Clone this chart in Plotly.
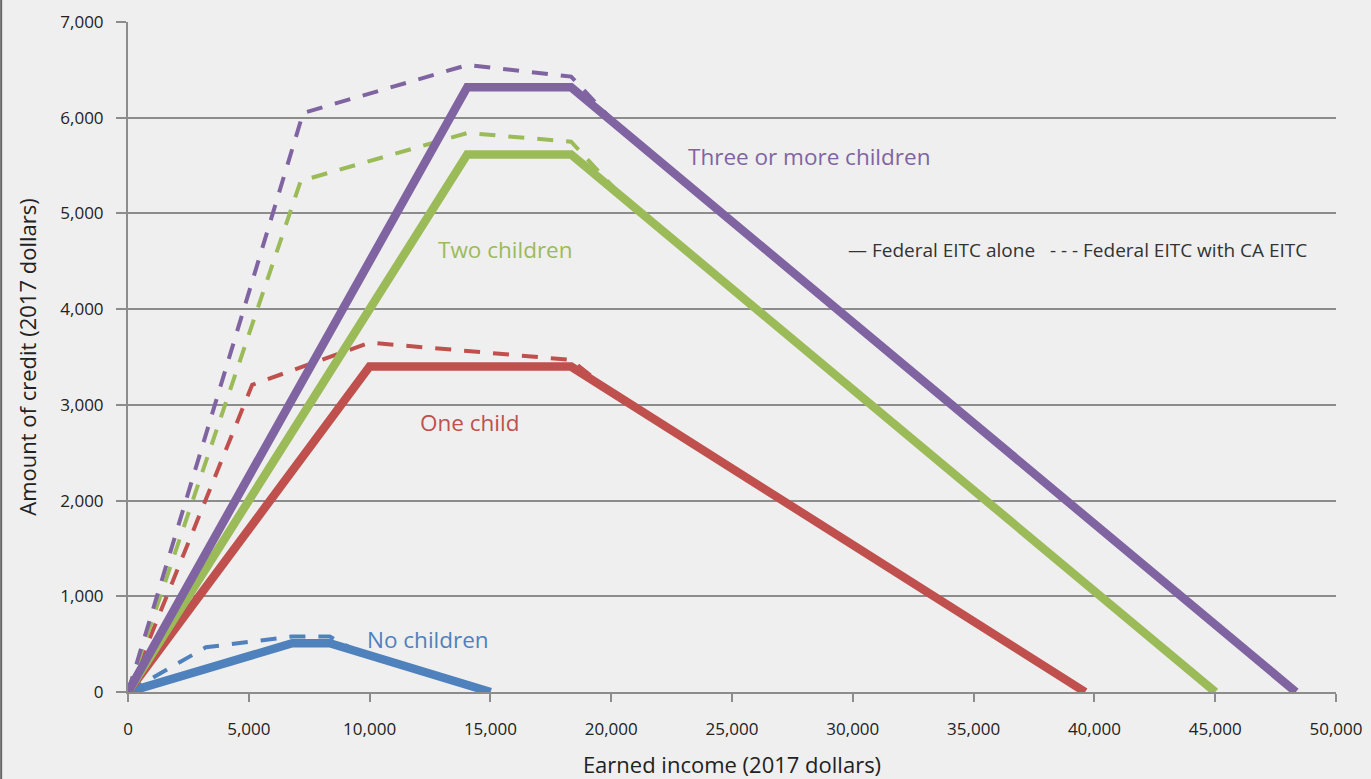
import plotly.graph_objects as go

# ---- Data (2017 dollars) ----
x_ticks = [0, 5000, 10000, 15000, 20000, 25000, 30000, 35000, 40000, 45000, 50000]
y_ticks = [0, 1000, 2000, 3000, 4000, 5000, 6000, 7000]

# Federal EITC alone
none_x = [0, 6800, 8350, 15010]
none_y = [0, 510, 510, 0]
one_x = [0, 10000, 18340, 39617]
one_y = [0, 3400, 3400, 0]
two_x = [0, 14040, 18340, 45007]
two_y = [0, 5616, 5616, 0]
three_x = [0, 14040, 18340, 48340]
three_y = [0, 6318, 6318, 0]

# Federal EITC with CA EITC (dashed, until it merges with federal)
none_ca_x = [0, 3220, 6800, 8350, 9500]
none_ca_y = [0, 467, 580, 580, 422]
one_ca_x = [0, 5140, 10000, 18340, 20000]
one_ca_y = [0, 3210, 3650, 3470, 3135]
two_ca_x = [0, 7150, 14040, 18340, 20500]
two_ca_y = [0, 5340, 5840, 5750, 5161]
three_ca_x = [0, 7250, 14040, 18340, 20300]
three_ca_y = [0, 6050, 6550, 6430, 5905]

PURPLE = "#8064a2"
GREEN = "#9bbb59"
RED = "#c0504d"
BLUE = "#4f81bd"
BG = "#efefef"
GRID = "#8c8c8c"
FONT = "Open Sans"
TXT = "#222222"

fig = go.Figure()

dashed = [(none_ca_x, none_ca_y, BLUE), (one_ca_x, one_ca_y, RED),
          (two_ca_x, two_ca_y, GREEN), (three_ca_x, three_ca_y, PURPLE)]
solid = [(none_x, none_y, BLUE), (one_x, one_y, RED),
         (two_x, two_y, GREEN), (three_x, three_y, PURPLE)]

for xs, ys, c in dashed:
    fig.add_trace(go.Scatter(x=xs, y=ys, mode="lines",
                             line=dict(color=c, width=4, dash="16px,13px"),
                             hoverinfo="skip", showlegend=False))
for xs, ys, c in solid:
    fig.add_trace(go.Scatter(x=xs, y=ys, mode="lines",
                             line=dict(color=c, width=8.5),
                             hoverinfo="skip", showlegend=False))

labels = [
    ("Three or more children", 23180, 5590, PURPLE),
    ("Two children", 12830, 4620, GREEN),
    ("One child", 12090, 2820, RED),
    ("No children", 9890, 545, BLUE),
]
annotations = []
for text, lx, ly, c in labels:
    annotations.append(dict(x=lx, y=ly, xref="x", yref="y", text=text,
                            showarrow=False, xanchor="left", yanchor="middle",
                            xshift=-2,
                            font=dict(family=FONT, size=22.5, color=c)))

annotations.append(dict(x=29800, y=4620, xref="x", yref="y",
                        text="— Federal EITC alone   - - - Federal EITC with CA EITC",
                        showarrow=False, xanchor="left", yanchor="middle",
                        xshift=-2,
                        font=dict(family=FONT, size=19, color="#333333")))

fig.update_layout(
    width=1371, height=779,
    margin=dict(l=128, r=35, t=22, b=87),
    paper_bgcolor=BG, plot_bgcolor=BG,
    font=dict(family=FONT, color=TXT),
    annotations=annotations,
    shapes=[dict(type="line", xref="paper", yref="paper",
                 x0=-0.105, x1=-0.105, y0=-0.14, y1=1.05,
                 line=dict(color="#666666", width=2))],
)

fig.update_xaxes(
    range=[0, 50000], tickvals=x_ticks,
    ticktext=[f"{v:,}" for v in x_ticks],
    showgrid=False, zeroline=False,
    showline=True, linecolor=GRID, linewidth=2,
    ticks="outside", ticklen=8, tickwidth=2, tickcolor=GRID,
    ticklabelstandoff=13,
    tickfont=dict(family=FONT, size=17, color=TXT),
    title=dict(text="Earned income (2017 dollars)", standoff=19,
               font=dict(family=FONT, size=22, color=TXT)),
    automargin=False,
)
fig.update_yaxes(
    range=[0, 7000], tickvals=y_ticks,
    ticktext=[f"{v:,}" for v in y_ticks],
    showgrid=True, gridcolor=GRID, gridwidth=2, zeroline=False,
    showline=True, linecolor=GRID, linewidth=2,
    ticks="outside", ticklen=10, tickwidth=2, tickcolor=GRID,
    ticklabelstandoff=9,
    tickfont=dict(family=FONT, size=17, color=TXT),
    title=dict(text="Amount of credit (2017 dollars)", standoff=18,
               font=dict(family=FONT, size=22, color=TXT)),
    automargin=False,
)

fig.write_html(
    "out.html",
    config={"displayModeBar": False},
    post_script="document.body.style.margin='0';document.body.style.background='#efefef';",
)
